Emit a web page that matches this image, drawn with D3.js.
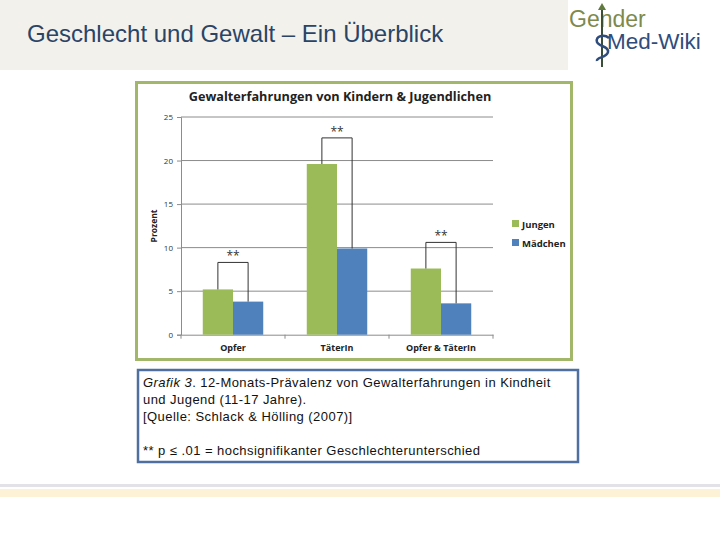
<!DOCTYPE html>
<html>
<head>
<meta charset="utf-8">
<script src="https://cdn.jsdelivr.net/npm/d3@7"></script>
<style>
  body { margin: 0; background: #fff; }
  svg { display: block; }
</style>
</head>
<body>
<svg id="slide" width="720" height="540"></svg>
<script>
// data
var categories = ["Opfer", "TäterIn", "Opfer & TäterIn"];
var groups = ["Jungen", "Mädchen"];
var jungen = [5.2, 19.6, 7.6];
var maedchen = [3.8, 9.9, 3.6];
var bracketTop = [8.3, 22.6, 10.6];  // height of the ** brackets
var yTicks = [0, 5, 10, 15, 20, 25];
var colors = ["#9bbb59", "#4f81bd"];

var svg = d3.select("#slide");

// header band
svg.append("rect").attr("x", 0).attr("y", 0).attr("width", 568).attr("height", 70).attr("fill", "#f2f1ec");
svg.append("text").attr("x", 27).attr("y", 42)
  .attr("font-family", "Liberation Sans, Arial, sans-serif").attr("font-size", 24)
  .attr("fill", "#2b4466").text("Geschlecht und Gewalt – Ein Überblick");

// logo
var logo = svg.append("g");
logo.append("text").attr("x", 569).attr("y", 27)
  .attr("font-family", "Liberation Sans, Arial, sans-serif").attr("font-size", 23)
  .attr("fill", "#7d8a4c").text("Gender");
logo.append("text").attr("x", 607).attr("y", 49)
  .attr("font-family", "Liberation Sans, Arial, sans-serif").attr("font-size", 22.5)
  .attr("fill", "#2f4d7c").text("Med-Wiki");
logo.append("line").attr("x1", 602).attr("x2", 602).attr("y1", 6).attr("y2", 67)
  .attr("stroke", "#3a4f3a").attr("stroke-width", 2);
logo.append("path").attr("d", "M598,10 L602,3 L606,10 Z").attr("fill", "#5f7a3c");
logo.append("path").attr("d", "M609,38 C604,34 595,36 597,42 C599,47 609,46 608,52 C607,58 596,57 597,61")
  .attr("fill", "none").attr("stroke", "#2f4d7c").attr("stroke-width", 2.5);

// chart frame
svg.append("rect").attr("x", 136.5).attr("y", 82.5).attr("width", 435).attr("height", 277)
  .attr("fill", "#fff").attr("stroke", "#a2b76a").attr("stroke-width", 3);

var chartFont = "Open Sans, Liberation Sans, sans-serif";
svg.append("text").attr("x", 340).attr("y", 101).attr("text-anchor", "middle")
  .attr("font-family", chartFont).attr("font-weight", "bold").attr("font-size", 12.7)
  .attr("fill", "#222").text("Gewalterfahrungen  von Kindern & Jugendlichen");

var plotLeft = 181, plotRight = 493, plotTop = 117, plotBottom = 334.7;
var x = d3.scaleBand().domain(categories).range([plotLeft, plotRight]).paddingInner(0).paddingOuter(0);
var xi = d3.scaleBand().domain(groups).range([0, x.bandwidth()]).paddingOuter(0.72).paddingInner(0);
var y = d3.scaleLinear().domain([0, 25]).range([plotBottom, plotTop]);

// grid
svg.append("g").selectAll("line").data(yTicks.slice(1)).join("line")
  .attr("x1", plotLeft).attr("x2", plotRight)
  .attr("y1", function(d) { return y(d); }).attr("y2", function(d) { return y(d); })
  .attr("stroke", "#8c8c8c").attr("stroke-width", 1);

// y axis
var yAxis = svg.append("g").attr("transform", "translate(" + plotLeft + ",0)")
  .call(d3.axisLeft(y).tickValues(yTicks).tickSize(4).tickPadding(4));
yAxis.select(".domain").attr("stroke", "#8c8c8c");
yAxis.selectAll(".tick line").attr("stroke", "#8c8c8c");
yAxis.selectAll(".tick text").attr("font-family", chartFont).attr("font-size", 8).attr("fill", "#333");

// x axis
var xAxis = svg.append("g").attr("transform", "translate(0," + plotBottom + ")")
  .call(d3.axisBottom(x).tickSize(0).tickPadding(10));
xAxis.select(".domain").attr("stroke", "#8c8c8c");
xAxis.selectAll(".tick text").attr("font-family", chartFont).attr("font-weight", "bold")
  .attr("font-size", 9).attr("fill", "#222");
// category separator ticks
svg.append("g").selectAll("line").data(categories.concat([null])).join("line")
  .attr("x1", function(d, i) { return plotLeft + i * x.step(); })
  .attr("x2", function(d, i) { return plotLeft + i * x.step(); })
  .attr("y1", plotBottom).attr("y2", plotBottom + 4)
  .attr("stroke", "#8c8c8c");

svg.append("text").attr("transform", "translate(157,226) rotate(-90)").attr("text-anchor", "middle")
  .attr("font-family", chartFont).attr("font-weight", "bold").attr("font-size", 8.5)
  .attr("fill", "#222").text("Prozent");

// bars
var rows = categories.map(function(c, i) {
  return { cat: c, vals: [jungen[i], maedchen[i]], sig: bracketTop[i] };
});
var cg = svg.append("g").selectAll("g").data(rows).join("g")
  .attr("transform", function(d) { return "translate(" + x(d.cat) + ",0)"; });
cg.selectAll("rect").data(function(d) { return d.vals; }).join("rect")
  .attr("x", function(d, i) { return xi(groups[i]); })
  .attr("width", xi.bandwidth())
  .attr("y", function(d) { return y(d); })
  .attr("height", function(d) { return plotBottom - y(d); })
  .attr("fill", function(d, i) { return colors[i]; });

// significance brackets
cg.append("path")
  .attr("d", function(d) {
    var x1 = xi(groups[0]) + xi.bandwidth() / 2, x2 = xi(groups[1]) + xi.bandwidth() / 2;
    return "M" + x1 + "," + y(d.vals[0]) + "V" + y(d.sig) + "H" + x2 + "V" + y(d.vals[1]);
  })
  .attr("fill", "none").attr("stroke", "#333").attr("stroke-width", 1);
cg.append("text")
  .attr("x", xi(groups[0]) + xi.bandwidth())
  .attr("y", function(d) { return y(d.sig) - 2; })
  .attr("text-anchor", "middle").attr("font-family", chartFont).attr("font-size", 12)
  .attr("fill", "#333").text("**");

// legend
var lg = svg.append("g").selectAll("g").data(groups).join("g")
  .attr("transform", function(d, i) { return "translate(512," + (224 + i * 19) + ")"; });
lg.append("rect").attr("x", 0).attr("y", -4).attr("width", 7).attr("height", 7)
  .attr("fill", function(d, i) { return colors[i]; });
lg.append("text").attr("x", 10).attr("y", 3.5)
  .attr("font-family", chartFont).attr("font-weight", "bold").attr("font-size", 9.5)
  .attr("fill", "#222").text(function(d) { return d; });

// caption box
svg.append("rect").attr("x", 138).attr("y", 370).attr("width", 440).attr("height", 92)
  .attr("fill", "#fff").attr("stroke", "#4f6fa0").attr("stroke-width", 2.5);
var capFont = "Liberation Sans, Arial, sans-serif";
var cap = svg.append("text").attr("font-family", capFont).attr("font-size", 13)
  .attr("letter-spacing", 0.45).attr("fill", "#111");
var l1 = cap.append("tspan").attr("x", 143).attr("y", 387);
l1.append("tspan").attr("font-style", "italic").text("Grafik 3");
l1.append("tspan").text(". 12-Monats-Prävalenz von Gewalterfahrungen in Kindheit");
cap.append("tspan").attr("x", 143).attr("y", 404).text("und Jugend (11-17 Jahre).");
cap.append("tspan").attr("x", 143).attr("y", 421).text("[Quelle: Schlack & Hölling (2007)]");
cap.append("tspan").attr("x", 143).attr("y", 455).text("** p ≤ .01 = hochsignifikanter Geschlechterunterschied");

// bottom strips
svg.append("rect").attr("x", 0).attr("y", 484).attr("width", 720).attr("height", 3).attr("fill", "#e2e2e8");
svg.append("rect").attr("x", 0).attr("y", 489).attr("width", 720).attr("height", 8).attr("fill", "#fdf1d6");
</script>
</body>
</html>
